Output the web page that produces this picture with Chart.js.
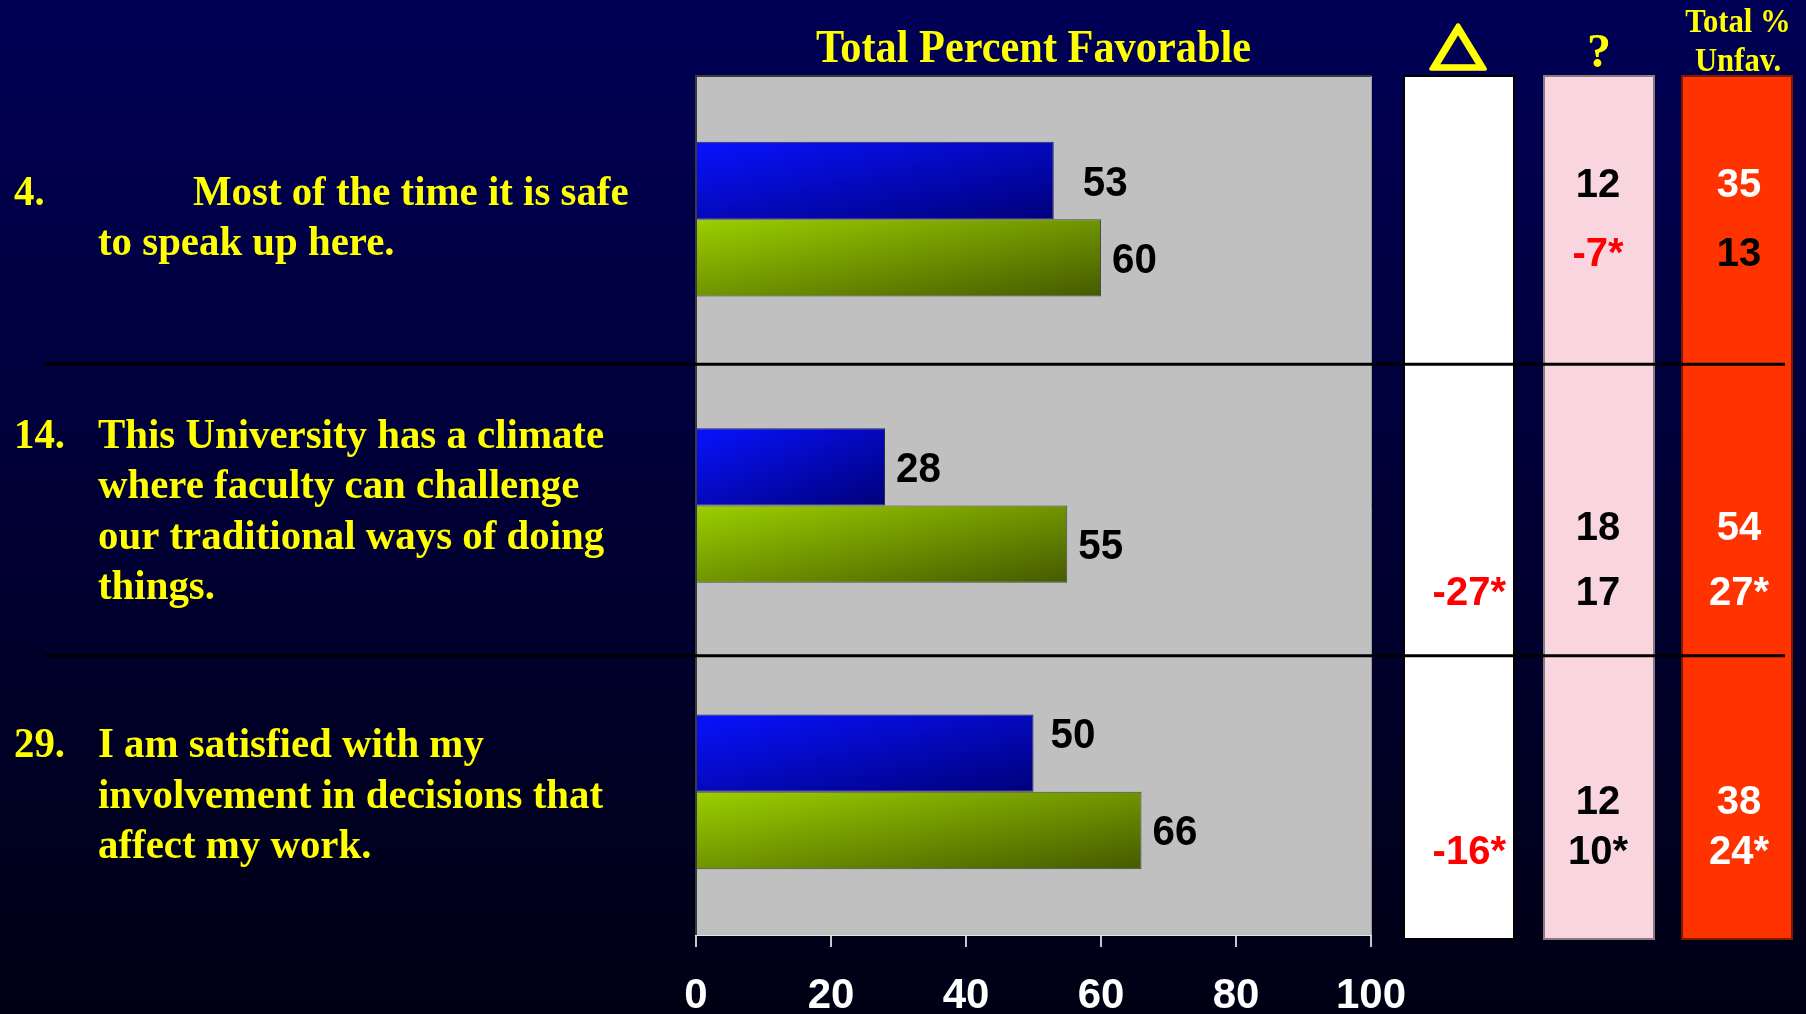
<!DOCTYPE html>
<html>
<head>
<meta charset="utf-8">
<script src="https://cdn.jsdelivr.net/npm/chart.js@4.4.1/dist/chart.umd.min.js"></script>
<style>
  html, body { margin: 0; padding: 0; overflow: hidden; background: #000014; }
  #wrap { position: relative; width: 1806px; height: 1014px; background: linear-gradient(#000056, #000014); }
</style>
</head>
<body>
<div id="wrap"><canvas id="chart" width="1806" height="1014"></canvas></div>
<script>
// survey items
var questions = ['4.', '14.', '29.']
var questionText = [
    ['Most of the time it is safe', 'to speak up here.'],
    ['This University has a climate', 'where faculty can challenge', 'our traditional ways of doing', 'things.'],
    ['I am satisfied with my', 'involvement in decisions that', 'affect my work.']
]

// percent favorable, two survey waves
var favorableA = [53, 28, 50]
var favorableB = [60, 55, 66]
var xTicks = [0, 20, 40, 60, 80, 100]

// right hand table, two rows per item
var deltaCol = [['', ''], ['', '-27*'], ['', '-16*']]
var neutralCol = [['12', '-7*'], ['18', '17'], ['12', '10*']]
var unfavCol = [['35', '13'], ['54', '27*'], ['38', '24*']]

var SERIF = '"Liberation Serif", "Times New Roman", serif'
var SANS = '"Liberation Sans", Arial, sans-serif'
var catPct = 0.54

// text colours for the table cells
var deltaColors = [['#ff0000', '#ff0000'], ['#ff0000', '#ff0000'], ['#ff0000', '#ff0000']]
var neutralColors = [['#000000', '#ff0000'], ['#000000', '#000000'], ['#000000', '#000000']]
var unfavColors = [['#ffffff', '#000000'], ['#ffffff', '#ffffff'], ['#ffffff', '#ffffff']]

// layout of the table columns and rows
var tableCols = [
    { x: 1404, w: 110, fill: '#ffffff', stroke: '#000000' },
    { x: 1544, w: 110, fill: '#f9d6df', stroke: '#8a7a80' },
    { x: 1682, w: 110, fill: '#ff3300', stroke: '#7a1a00' }
]
var rowOffsets = [[-37, 32], [20, 85], [8, 58]]
var firstIndent = [95, 0, 0]
var textShift = [-3, 4, 2]
var sepShift = [2, 7]
var labelNudge = { '0-0': [18, 0], '0-2': [6, -20] }

// diagonal fill across one bar: bright top-left to dark bottom-right
function barFill(c0, c1, lower) {
    return function (context) {
        var chart = context.chart
        var area = chart.chartArea
        if (!area || context.dataIndex === undefined || !chart.scales.y) return c0
        var xs = chart.scales.x, ys = chart.scales.y
        var yc = ys.getPixelForValue(context.dataIndex)
        var h = (area.bottom - area.top) / questions.length * catPct / 2
        var top = lower ? yc : yc - h
        var w = Math.max(xs.getPixelForValue(context.raw) - xs.left, 1)
        var vx = 1 / (2 * w), vy = 1 / (2 * h)
        var n = vx * vx + vy * vy
        var g = chart.ctx.createLinearGradient(xs.left, top, xs.left + vx / n, top + vy / n)
        g.addColorStop(0, c0)
        g.addColorStop(1, c1)
        return g
    }
}

// text squeezed horizontally, anchored at x by its alignment
function squeezed(c, text, x, y, sx) {
    c.save()
    c.translate(x, y)
    c.scale(sx, 1)
    c.fillText(text, 0, 0)
    c.restore()
}

var panelPlugin = {
    id: 'panel',
    beforeDatasetsDraw: function (chart) {
        var c = chart.ctx, a = chart.chartArea
        c.save()
        c.fillStyle = '#c0c0c0'
        c.fillRect(a.left, a.top, a.right - a.left, a.bottom - a.top)
        c.strokeStyle = '#3a3a3a'
        c.lineWidth = 2
        c.beginPath()
        c.moveTo(a.left, a.bottom)
        c.lineTo(a.left, a.top)
        c.lineTo(a.right, a.top)
        c.stroke()
        c.strokeStyle = '#9a9a9a'
        c.lineWidth = 1
        c.beginPath()
        c.moveTo(a.right + 0.5, a.top)
        c.lineTo(a.right + 0.5, a.bottom)
        c.stroke()

        // table columns
        tableCols.forEach(function (col) {
            c.fillStyle = col.fill
            c.fillRect(col.x, a.top, col.w, a.bottom - a.top + 4)
            c.strokeStyle = col.stroke
            c.lineWidth = 2
            c.strokeRect(col.x, a.top, col.w, a.bottom - a.top + 4)
        })
        c.restore()
    },
    afterDatasetsDraw: function (chart) {
        var c = chart.ctx
        c.save()
        c.font = 'bold 42px ' + SANS
        c.fillStyle = '#000000'
        c.textAlign = 'left'
        c.textBaseline = 'alphabetic'
        chart.data.datasets.forEach(function (ds, di) {
            chart.getDatasetMeta(di).data.forEach(function (bar, i) {
                var n = labelNudge[di + '-' + i] || [0, 0]
                squeezed(c, String(ds.data[i]), bar.x + 11 + n[0], bar.y + 15 + n[1], 0.96)
            })
        })
        c.restore()
    },
    afterDraw: function (chart) {
        var c = chart.ctx, a = chart.chartArea
        var ys = chart.scales.y
        c.save()

        // separators between items
        c.strokeStyle = '#000000'
        c.lineWidth = 3
        for (var i = 0; i < questions.length - 1; i++) {
            var yy = (ys.getPixelForValue(i) + ys.getPixelForValue(i + 1)) / 2 + sepShift[i]
            c.beginPath()
            c.moveTo(44, yy)
            c.lineTo(1785, yy)
            c.stroke()
        }

        // item wording
        c.fillStyle = '#ffff00'
        c.font = 'bold 43px ' + SERIF
        c.textAlign = 'left'
        c.textBaseline = 'alphabetic'
        questions.forEach(function (q, i) {
            var lines = questionText[i]
            var lh = 50.5
            var base = ys.getPixelForValue(i) - (lines.length - 1) / 2 * lh + 14 + textShift[i]
            squeezed(c, q, 14, base, 0.95)
            lines.forEach(function (t, k) {
                squeezed(c, t, 98 + (k === 0 ? firstIndent[i] : 0), base + k * lh, 0.95)
            })
        })

        // headers
        c.font = 'bold 46px ' + SERIF
        c.textAlign = 'center'
        var tw = c.measureText('Total Percent Favorable').width
        squeezed(c, 'Total Percent Favorable', (a.left + a.right) / 2, 62, 435 / tw)

        c.font = 'bold 48px ' + SERIF
        c.fillText('?', tableCols[1].x + tableCols[1].w / 2, 67)

        c.font = 'bold 33px ' + SERIF
        squeezed(c, 'Total %', tableCols[2].x + tableCols[2].w / 2 + 1, 32, 0.93)
        squeezed(c, 'Unfav.', tableCols[2].x + tableCols[2].w / 2 + 1, 71, 0.93)

        // change symbol over the first column
        c.font = '60px "DejaVu Sans"'
        c.textAlign = 'left'
        var m = c.measureText('\u25B3')
        var gw = m.actualBoundingBoxLeft + m.actualBoundingBoxRight
        var gh = m.actualBoundingBoxAscent + m.actualBoundingBoxDescent
        c.save()
        c.translate(1431, 25)
        c.scale(54 / gw, 45 / gh)
        c.strokeStyle = '#ffff00'
        c.lineWidth = 3.5
        c.lineJoin = 'round'
        c.fillText('\u25B3', m.actualBoundingBoxLeft, m.actualBoundingBoxAscent)
        c.strokeText('\u25B3', m.actualBoundingBoxLeft, m.actualBoundingBoxAscent)
        c.restore()

        // table values
        c.font = 'bold 40px ' + SANS
        questions.forEach(function (q, i) {
            var yc = ys.getPixelForValue(i)
            for (var r = 0; r < 2; r++) {
                var by = yc + rowOffsets[i][r] + 14.5
                c.textAlign = 'right'
                c.fillStyle = deltaColors[i][r]
                c.fillText(deltaCol[i][r], tableCols[0].x + 102, by)
                c.textAlign = 'center'
                c.fillStyle = neutralColors[i][r]
                c.fillText(neutralCol[i][r], tableCols[1].x + tableCols[1].w / 2 - 1, by)
                c.fillStyle = unfavColors[i][r]
                c.fillText(unfavCol[i][r], tableCols[2].x + tableCols[2].w / 2 + 2, by)
            }
        })
        c.restore()
    }
}

var ctx = document.getElementById('chart').getContext('2d')
var chart = new Chart(ctx, {
    type: 'bar',
    data: {
        labels: questions,
        datasets: [{
            data: favorableA,
            backgroundColor: barFill('#0812ff', '#00007a', false),
            borderColor: '#2a2a50',
            borderWidth: 1,
            categoryPercentage: catPct,
            barPercentage: 1
        }, {
            data: favorableB,
            backgroundColor: barFill('#9ccf00', '#445a00', true),
            borderColor: '#4a4a4a',
            borderWidth: 1,
            categoryPercentage: catPct,
            barPercentage: 1
        }]
    },
    options: {
        indexAxis: 'y',
        responsive: false,
        animation: false,
        layout: { padding: { left: 696, right: 435, top: 76, bottom: 0 } },
        plugins: { legend: { display: false }, tooltip: { enabled: false } },
        scales: {
            x: {
                min: 0,
                max: 100,
                afterBuildTicks: function (s) { s.ticks = xTicks.map(function (v) { return { value: v } }) },
                afterFit: function (s) { s.height = 79 },
                ticks: {
                    color: '#ffffff',
                    font: { family: SANS, size: 42, weight: 'bold' },
                    padding: 24,
                    maxRotation: 0,
                    autoSkip: false
                },
                grid: { drawOnChartArea: false, drawTicks: true, tickLength: 12, color: '#c8c8c8', lineWidth: 2 },
                border: { display: true, color: '#e6e6e6', width: 2 }
            },
            y: { display: false }
        }
    },
    plugins: [panelPlugin]
})
</script>
</body>
</html>
